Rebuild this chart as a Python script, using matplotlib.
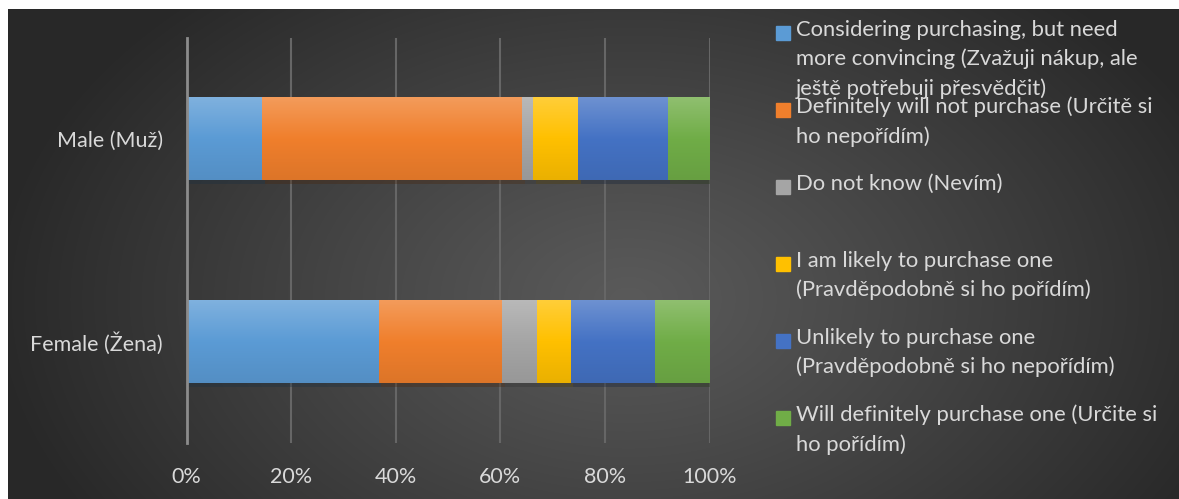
import matplotlib.pyplot as plt
import numpy as np
from matplotlib.colors import LinearSegmentedColormap, to_rgb
from matplotlib import patheffects

# データ (割合 %)
categories = ["Female (Žena)", "Male (Muž)"]
series_labels = [
    "Considering purchasing, but need\nmore convincing (Zvažuji nákup, ale\nještě potřebuji přesvědčit)",
    "Definitely will not purchase (Určitě si\nho nepořídím)",
    "Do not know (Nevím)",
    "I am likely to purchase one\n(Pravděpodobně si ho pořídím)",
    "Unlikely to purchase one\n(Pravděpodobně si ho nepořídím)",
    "Will definitely purchase one (Určite si\nho pořídím)",
]
female_values = [36.8, 23.6, 6.7, 6.5, 16.1, 10.5]
male_values = [14.4, 49.8, 2.1, 8.6, 17.2, 8.0]
colors = ["#5B9BD5", "#F07F2C", "#A5A5A5", "#FFC000", "#4472C4", "#70AD47"]
tick_labels = ["0%", "20%", "40%", "60%", "80%", "100%"]

FONT = ["Lato", "DejaVu Sans"]
TEXT_COLOR = "#d9d9d9"
W, H = 1179, 499

plt.rcParams['font.family'] = FONT

fig = plt.figure(figsize=(W / 100, H / 100), dpi=100)
fig.patch.set_facecolor("white")

# 背景 (放射グラデーション)
bg = fig.add_axes([8 / W, 0, (W - 8) / W, (H - 9) / H], zorder=-10)
yy, xx = np.mgrid[0:490, 0:1171]
r = np.sqrt(((xx - 620) / 640.0) ** 2 + ((yy - 290) / 420.0) ** 2)
r = np.clip(r, 0, 1)
light, dark = 0x5a / 255, 0x28 / 255
val = light + (dark - light) * r ** 1.1
bg.imshow(np.dstack([val, val, val]), aspect="auto", interpolation="bilinear")
bg.set_axis_off()

ax = fig.add_axes([186.5 / W, 56 / H, 523 / W, 405 / H])
ax.set_facecolor("none")

data = np.array([female_values, male_values])
data = data / data.sum(axis=1, keepdims=True)
y = np.arange(len(categories))
left = np.zeros(len(categories))

def shade(c, f):
    c = np.array(to_rgb(c))
    if f > 0:
        return tuple(c + (1 - c) * f)
    return tuple(c * (1 + f))

for i, col in enumerate(colors):
    bars = ax.barh(y, data[:, i], left=left, height=0.405, color=col, zorder=1,
                   path_effects=[patheffects.SimplePatchShadow(offset=(2, -3), alpha=0.35),
                                 patheffects.Normal()])
    cmap = LinearSegmentedColormap.from_list("g", [shade(col, 0.22), col, shade(col, -0.08)])
    for p in bars.patches:
        x0, y0 = p.get_x(), p.get_y()
        ax.imshow(np.linspace(0, 1, 64).reshape(-1, 1), cmap=cmap, aspect="auto",
                  extent=[x0, x0 + p.get_width(), y0, y0 + p.get_height()],
                  origin="upper", zorder=2)
    left += data[:, i]

ax.set_xlim(0, 1)
ax.set_ylim(-0.5, 1.5)
ax.set_xticks(np.linspace(0, 1, 6))
ax.set_xticklabels(tick_labels)
ax.set_yticks(y)
ax.set_yticklabels(categories)
ax.tick_params(length=0, labelsize=15.5, colors=TEXT_COLOR)
ax.tick_params(axis="x", pad=17)
ax.tick_params(axis="y", pad=17)
for t in ax.get_xticklabels() + ax.get_yticklabels():
    t.set_color(TEXT_COLOR)
ax.grid(axis="x", color="#666666", linewidth=1.5, zorder=0)
ax.set_axisbelow(True)
for s in ["top", "right", "bottom"]:
    ax.spines[s].set_visible(False)
ax.spines["left"].set_color("#8c8c8c")
ax.spines["left"].set_linewidth(2)
ax.spines["left"].set_zorder(3)

# 凡例 (手動配置)
for i, (lab, col) in enumerate(zip(series_labels, colors)):
    cy = 32.7 + i * 77
    fig.patches.append(plt.Rectangle((776 / W, 1 - (cy + 7) / H), 14 / W, 14 / H,
                                     transform=fig.transFigure, color=col, zorder=5))
    fig.text(796 / W, 1 - (cy - 13) / H, lab, color=TEXT_COLOR, fontsize=15.8,
             va="top", ha="left", linespacing=1.55)

fig.savefig("out.png", dpi=100, facecolor=fig.get_facecolor())
